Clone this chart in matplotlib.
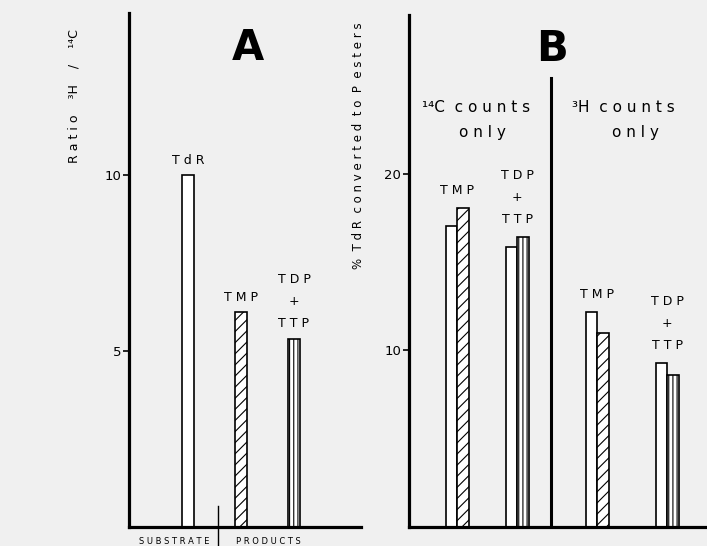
import numpy as np
import matplotlib.pyplot as plt

# Werte
a_labels = ['TdR', 'TMP', 'TDP\n+\nTTP']
a_ratio = [10.0, 6.1, 5.35]
a_hatch = ['', '///', '||||']

b_labels = ['TMP', 'TDP\n+\nTTP', 'TMP', 'TDP\n+\nTTP']
b_open = [17.05, 15.85, 12.15, 9.3]
b_hatched = [18.05, 16.4, 11.0, 8.6]
b_hatch = ['///', '||||', '///', '||||']

W, H = 707, 546
plt.rcParams['hatch.linewidth'] = 0.8
bg = '#f0f0f0'


def fx(px):
    return px / W


def fy(py):
    return 1 - py / H


def spaced(s):
    # Sperrschrift wie im Original
    return '\n'.join('  '.join(' '.join(w) for w in line.split(' ')) for line in s.split('\n'))


fig = plt.figure(figsize=(W / 100, H / 100), dpi=100, facecolor=bg)

# --- Panel A ---
axA = fig.add_axes([fx(129), fy(527), fx(361) - fx(129), fy(13) - fy(527)])
a_x = np.array([59, 112, 165])
for x, v, h in zip(a_x, a_ratio, a_hatch):
    axA.bar(x, v, width=12, color='white', edgecolor='black', linewidth=1.2, hatch=h or None)
for x, v, lab in zip(a_x, a_ratio, a_labels):
    axA.annotate(spaced(lab), (x, v), xytext=(0, 6), textcoords='offset points',
                 ha='center', va='bottom', fontsize=9, linespacing=1.9)
axA.set_xlim(0, 232)
axA.set_ylim(0, 14.6)
axA.set_xticks([])
axA.set_yticks([5, 10])
axA.set_facecolor('none')
for s in ['top', 'right']:
    axA.spines[s].set_visible(False)
for s in ['left', 'bottom']:
    axA.spines[s].set_linewidth(2.3)
axA.tick_params(axis='y', direction='out', length=4, width=1.2, labelsize=9.5, pad=1.5)
axA.plot([89, 89], [0.6, -0.6], color='black', lw=1, clip_on=False)
axA.text(45, -0.42, spaced('SUBSTRATE'), ha='center', va='center', fontsize=6)
axA.text(139, -0.42, spaced('PRODUCTS'), ha='center', va='center', fontsize=6)
fig.text(fx(74), fy(96), spaced('Ratio') + '    ³H    /    ¹⁴C', rotation=90,
         ha='center', va='center', fontsize=9)
fig.text(fx(248), fy(48), 'A', ha='center', va='center', fontsize=30, fontweight='bold')

# --- Panel B ---
axB = fig.add_axes([fx(409), fy(527), 1 - fx(409), fy(15) - fy(527)])
b_x = np.array([48, 108, 188, 258])
bw = 11.5
axB.bar(b_x - bw / 2, b_open, width=bw, color='white', edgecolor='black', linewidth=1.2)
for x, v, h in zip(b_x, b_hatched, b_hatch):
    axB.bar(x + bw / 2, v, width=bw, color='white', edgecolor='black', linewidth=1.2, hatch=h)
for x, o, hv, lab in zip(b_x, b_open, b_hatched, b_labels):
    axB.annotate(spaced(lab), (x, max(o, hv)), xytext=(0, 8), textcoords='offset points',
                 ha='center', va='bottom', fontsize=9, linespacing=1.9)
axB.set_xlim(0, 298)
axB.set_ylim(0, 29.0)
axB.set_xticks([])
axB.set_yticks([10, 20])
axB.set_facecolor('none')
for s in ['top', 'right']:
    axB.spines[s].set_visible(False)
for s in ['left', 'bottom']:
    axB.spines[s].set_linewidth(2.3)
axB.tick_params(axis='y', direction='out', length=4, width=1.2, labelsize=9.5, pad=1.5)
axB.plot([142, 142], [0, 25.45], color='black', lw=2.2)
fig.text(fx(422), fy(108), '¹⁴C  ' + spaced('counts'), ha='left', va='center', fontsize=11)
fig.text(fx(482), fy(132), spaced('only'), ha='center', va='center', fontsize=11)
fig.text(fx(572), fy(108), '³H  ' + spaced('counts'), ha='left', va='center', fontsize=11)
fig.text(fx(635), fy(132), spaced('only'), ha='center', va='center', fontsize=11)
fig.text(fx(358), fy(146), spaced('% TdR converted to P esters'), rotation=90,
         ha='center', va='center', fontsize=8.5)
fig.text(fx(552), fy(49), 'B', ha='center', va='center', fontsize=30, fontweight='bold')

fig.savefig('out.png', dpi=100, facecolor=bg)
